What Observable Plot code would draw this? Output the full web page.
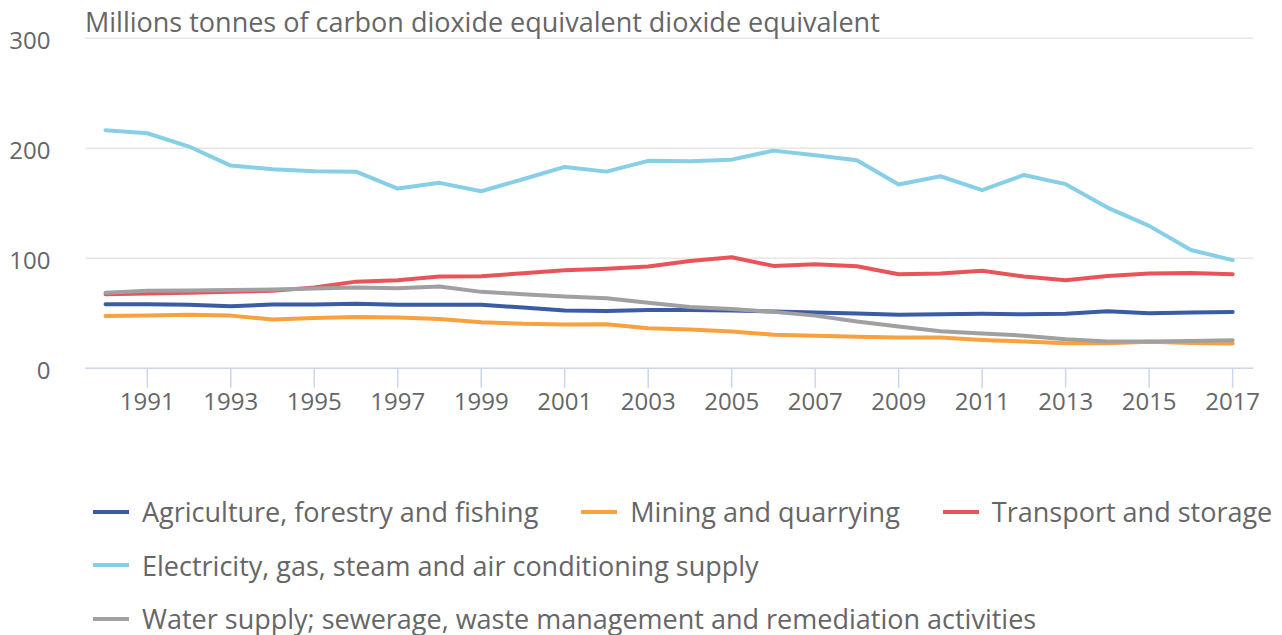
<!DOCTYPE html>
<html><head><meta charset="utf-8">
<script src="https://cdn.jsdelivr.net/npm/d3@7"></script>
<script src="https://cdn.jsdelivr.net/npm/@observablehq/plot@0.6"></script>
<style>
html,body{margin:0;padding:0;background:#fff;overflow:hidden;}
body{width:1282px;height:635px;font-family:"Open Sans",sans-serif;color:#666;}
#title{height:20px;box-sizing:border-box;padding:8px 0 0 85px;font-size:27px;line-height:27px;white-space:nowrap;overflow:visible;position:relative;z-index:1;}
#chart svg{display:block;overflow:visible;}
#legend{display:flex;flex-wrap:wrap;width:1400px;padding-left:93px;box-sizing:border-box;font-size:27px;line-height:27px;margin-top:45px;}
.item{display:flex;align-items:center;margin-right:43px;height:53.5px;white-space:nowrap;}
.sw{width:36px;height:4px;margin-right:13px;}
</style>
</head><body>
<div id="title">Millions tonnes of carbon dioxide equivalent dioxide equivalent</div>
<div id="chart"></div>
<div id="legend"></div>
<script>
const years = [1990,1991,1992,1993,1994,1995,1996,1997,1998,1999,2000,2001,2002,2003,2004,2005,2006,2007,2008,2009,2010,2011,2012,2013,2014,2015,2016,2017];
const seriesNames = ["Agriculture, forestry and fishing","Mining and quarrying","Transport and storage","Electricity, gas, steam and air conditioning supply","Water supply; sewerage, waste management and remediation activities"];
const seriesColors = ["#3b5ba5","#f9a03f","#e9545b","#86cfe6","#a0a0a0"];
const agriculture = [58.2,58.2,57.6,56.4,57.9,57.9,58.7,57.6,57.6,57.6,55.1,52.4,52.1,53,53,52.4,51.5,50.6,49.7,48.7,49,49.4,49,49.4,51.8,50,50.6,51.2];
const mining = [47.5,47.8,48.7,47.8,44.2,45.7,46.6,46,44.8,41.8,40.3,39.7,40,36.4,35.1,33.3,30.5,29.6,28.7,28,28,25.7,24.2,22.7,22.7,24,23,22.4];
const transport = [67.3,67.8,68.7,69.6,70.3,73.3,78.7,80,83.3,83.6,86.3,89,90.5,92.4,97.5,100.9,93,94.5,92.7,85.4,86,88.5,83.3,80,83.9,86,86.6,85.5];
const electricity = [216.4,213.6,201.5,184.2,180.9,179.1,178.7,163.3,168.5,160.9,171.8,183,178.7,188.5,188.2,189.6,197.8,193.6,189.1,167,174.5,161.8,175.7,167.3,146,129.4,107.5,98.2];
const water = [68.7,70.3,70.6,71.2,71.5,72.4,73.3,72.7,74.2,69.4,67.3,65.1,63.6,59.4,55.7,53.9,51.2,47.8,42.4,38,33.6,31.5,29.6,26.4,24.2,24.2,24.8,25.5];
const xTicks = [1991,1993,1995,1997,1999,2001,2003,2005,2007,2009,2011,2013,2015,2017];
const yTicks = [0,100,200,300];

const allSeries = [agriculture, mining, transport, electricity, water];
const rows = allSeries.flatMap((vals, i) => vals.map((v, j) => ({series: seriesNames[i], year: years[j], value: v})));

const plot = Plot.plot({
  width: 1282,
  height: 420,
  marginLeft: 85,
  marginRight: 29,
  marginTop: 17.7,
  marginBottom: 72.3,
  style: {fontFamily: "Open Sans", fontSize: "24px", color: "#666", background: "#fff", overflow: "visible"},
  x: {domain: [1989.52, 2017.5], label: null},
  y: {domain: [0, 300], label: null},
  color: {domain: seriesNames, range: seriesColors},
  marks: [
    Plot.ruleY(yTicks.filter(d => d > 0), {stroke: "#e6e6e6", strokeWidth: 1.5}),
    Plot.ruleY([0], {stroke: "#ccd6eb", strokeWidth: 1.5}),
    Plot.axisY({ticks: yTicks, tickSize: 0, tickPadding: 35, dy: 3, fill: "#666", fontSize: 24, label: null}),
    Plot.axisX({ticks: xTicks, tickSize: 20, tickPadding: 5, tickFormat: d => String(d), stroke: "#ccd6eb", strokeWidth: 1.5, fill: "#666", fontSize: 24, label: null}),
    Plot.line(rows, {x: "year", y: "value", z: "series", stroke: "series", strokeWidth: 4, strokeLinejoin: "round", strokeLinecap: "round"})
  ]
});
document.getElementById("chart").appendChild(plot);

const legend = document.getElementById("legend");
seriesNames.forEach((name, i) => {
  const item = document.createElement("div");
  item.className = "item";
  const sw = document.createElement("span");
  sw.className = "sw";
  sw.style.background = seriesColors[i];
  const t = document.createElement("span");
  t.textContent = name;
  item.appendChild(sw);
  item.appendChild(t);
  legend.appendChild(item);
});
</script>
</body></html>
